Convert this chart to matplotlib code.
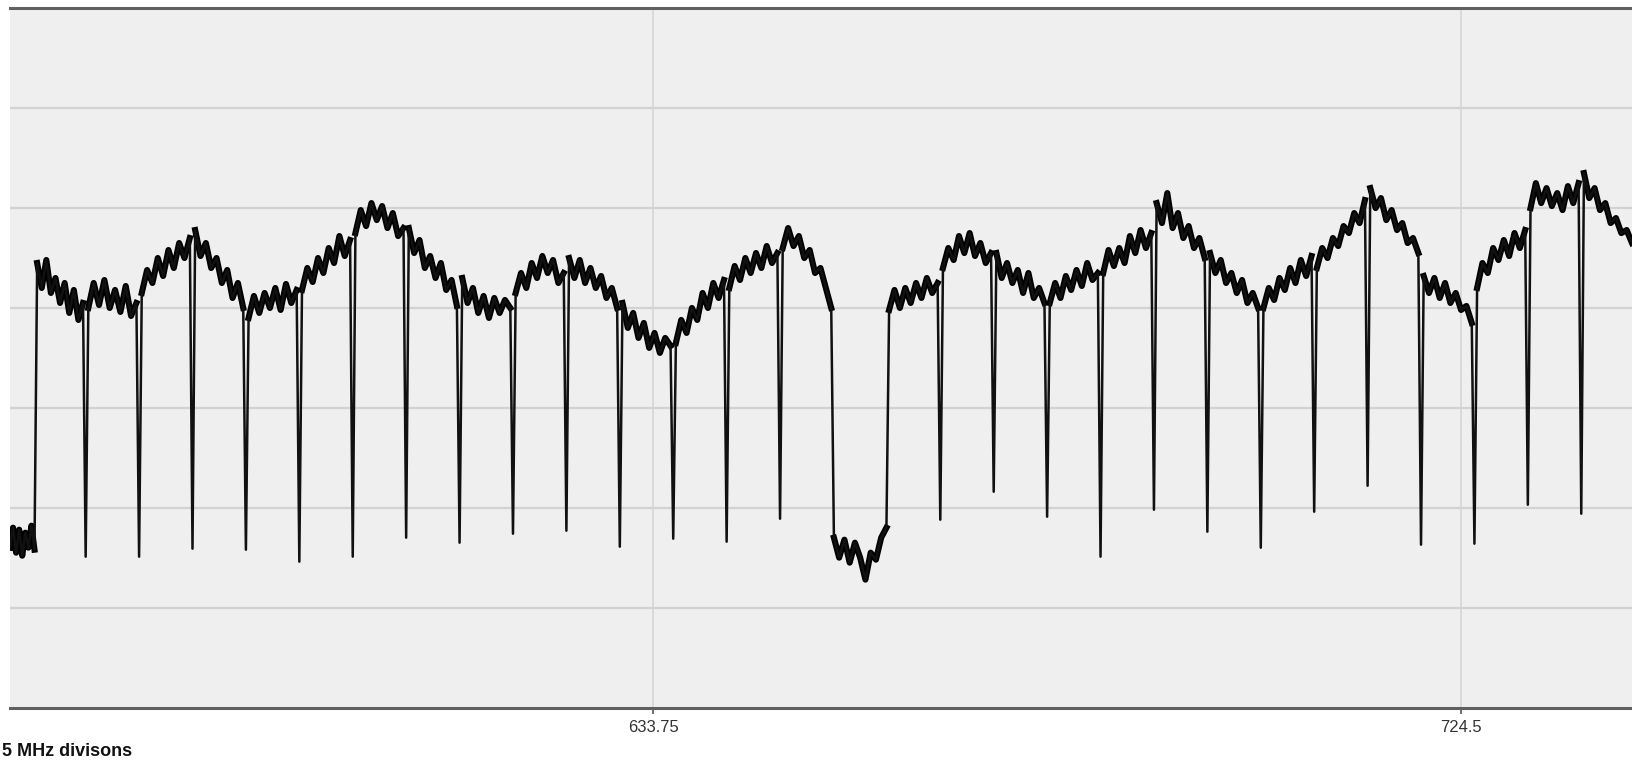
import numpy as np
import matplotlib
matplotlib.use("Agg")
import matplotlib.pyplot as plt

plt.rcParams['font.family'] = ['Liberation Sans', 'DejaVu Sans']

# frequency span shown (MHz) and tick labels
x_start, x_end = 561.5, 743.7
tick_values = [633.75, 724.5]
tick_labels = ["633.75", "724.5"]

# channel edges (MHz) where the trace dips
notch_freqs = [570, 576, 582, 588, 594, 600, 606, 612, 618, 624, 630, 636, 642, 648,
               666, 672, 678, 684, 690, 696, 702, 708, 714, 720, 726, 732, 738]
notch_depths = [15.1, 15.1, 15.9, 15.8, 14.6, 15.1, 17.0, 16.5, 17.4, 17.7, 16.1, 16.9, 16.6, 18.9,
                18.8, 21.6, 19.1, 15.1, 19.8, 17.6, 16.0, 19.6, 22.2, 16.3, 16.4, 20.3, 19.4]

# segment boundaries and the noisy level read in each segment (dB, 10 dB/div)
seg_edges = [561.5, 564.4, 570, 576, 582, 588, 594, 600, 606, 612, 618, 624, 630, 636, 642, 648,
             653.9, 660.1, 666, 672, 678, 684, 690, 696, 702, 708, 714, 720, 726, 732, 738, 743.7]
seg_levels = [
    [16.0, 18.0, 15.5, 17.8, 15.2, 17.5, 16.0, 18.2, 15.8],
    [44.5, 42.0, 44.8, 41.5, 43.0, 40.5, 42.5, 39.5, 41.8, 38.8, 40.5],
    [40.0, 42.5, 40.3, 42.8, 40.0, 41.8, 39.6, 42.2, 39.2, 40.5],
    [41.5, 43.8, 42.5, 45.0, 43.2, 45.8, 44.0, 46.5, 45.0, 47.0],
    [47.8, 45.2, 46.5, 44.0, 45.0, 42.5, 43.8, 41.0, 42.5, 40.0],
    [39.0, 41.2, 39.5, 41.5, 40.0, 42.0, 39.8, 42.4, 40.5, 41.8],
    [41.8, 44.0, 42.6, 45.0, 43.5, 46.0, 44.5, 47.2, 45.2, 46.8],
    [47.5, 49.8, 48.2, 50.5, 48.8, 50.2, 48.0, 49.5, 47.2, 48.0],
    [48.0, 45.5, 46.8, 44.0, 45.2, 43.0, 44.5, 41.8, 42.8, 40.2],
    [43.0, 40.5, 42.0, 39.5, 41.2, 39.0, 41.0, 39.5, 40.8, 40.0],
    [41.5, 43.5, 42.0, 44.5, 43.0, 45.2, 43.5, 44.8, 42.5, 43.5],
    [45.0, 43.0, 44.8, 42.5, 44.0, 42.0, 43.2, 41.0, 42.0, 40.0],
    [40.5, 38.0, 39.5, 37.0, 38.5, 36.0, 37.5, 35.5, 37.0, 36.2],
    [36.5, 38.8, 37.5, 40.0, 38.8, 41.5, 40.0, 42.5, 41.0, 42.8],
    [42.0, 44.2, 42.8, 45.0, 43.5, 45.5, 44.0, 46.2, 44.5, 45.5],
    [46.0, 48.0, 46.2, 47.2, 45.0, 45.8, 43.5, 44.0, 42.0, 40.0],
    [17.0, 15.0, 16.8, 14.5, 16.5, 15.0, 12.8, 15.5, 14.8, 17.0, 18.0],
    [39.8, 41.8, 40.0, 42.0, 40.5, 42.5, 41.0, 43.0, 41.5, 42.5],
    [44.0, 46.0, 44.8, 47.2, 45.5, 47.5, 45.2, 46.5, 44.5, 45.5],
    [45.5, 43.0, 44.5, 42.5, 43.8, 41.5, 43.5, 41.0, 42.0, 40.5],
    [40.5, 42.5, 41.0, 43.2, 41.8, 43.8, 42.2, 44.5, 42.8, 43.5],
    [43.5, 45.8, 44.2, 46.0, 44.5, 47.2, 45.5, 47.8, 46.0, 47.5],
    [50.5, 48.5, 51.5, 48.0, 49.5, 47.0, 48.2, 46.0, 47.0, 45.0],
    [45.5, 43.5, 44.8, 42.5, 43.5, 41.5, 42.8, 40.5, 41.5, 40.0],
    [40.0, 42.0, 40.8, 43.0, 41.8, 44.0, 42.5, 44.8, 43.2, 45.2],
    [44.0, 46.0, 45.0, 47.0, 46.2, 48.2, 47.5, 49.5, 48.5, 50.8],
    [52.0, 50.0, 51.0, 48.8, 49.8, 47.8, 48.5, 46.5, 47.0, 45.5],
    [43.2, 41.5, 43.0, 41.0, 42.5, 40.5, 41.5, 39.8, 40.2, 38.5],
    [42.0, 44.5, 43.5, 46.0, 44.8, 46.8, 45.2, 47.5, 46.0, 47.8],
    [50.0, 52.5, 50.5, 52.0, 50.2, 51.5, 49.8, 52.2, 50.5, 52.5],
    [53.5, 51.0, 52.0, 49.8, 50.5, 48.5, 49.0, 47.5, 47.8, 46.5],
]

# build the trace: level samples plus notch points
xs, ys = [], []
band_x, band_y = [], []
for i, lv in enumerate(seg_levels):
    a, b = seg_edges[i], seg_edges[i + 1]
    pad_a = 0.3 if a in notch_freqs else 0.15
    pad_b = 0.3 if b in notch_freqs else 0.15
    if i == 0:
        pad_a = 0.0
    if i == len(seg_levels) - 1:
        pad_b = 0.0
    px = np.linspace(a + pad_a, b - pad_b, len(lv))
    xs += list(px)
    ys += lv
    band_x += list(px) + [np.nan]
    band_y += lv + [np.nan]
    if b in notch_freqs:
        xs.append(b)
        ys.append(notch_depths[notch_freqs.index(b)])

fig = plt.figure(figsize=(16.32, 7.62), dpi=100)
ax = fig.add_axes([10 / 1632, 1 - 707.5 / 762, 1 - 10 / 1632, (707.5 - 8.3) / 762])
ax.set_facecolor("#efefef")

ax.plot(band_x, band_y, color="black", lw=4.4, zorder=3)
ax.plot(xs, ys, color="#111111", lw=1.8, zorder=4)

ax.set_xlim(x_start, x_end)
ax.set_ylim(0, 70)
ax.set_yticks(np.arange(10, 70, 10))
ax.set_yticklabels([])
ax.tick_params(axis="y", length=0)
ax.set_xticks(tick_values)
ax.set_xticklabels(tick_labels, fontsize=12, color="#333333")
ax.tick_params(axis="x", length=4, width=1.2, color="#555555", pad=5)
ax.grid(axis="y", color="#d2d2d2", lw=1.6)
ax.grid(axis="x", color="#d6d6d6", lw=1.2)
ax.set_axisbelow(True)

for s in ["left", "right"]:
    ax.spines[s].set_visible(False)
for s in ["top", "bottom"]:
    ax.spines[s].set_color("#606060")
    ax.spines[s].set_linewidth(2.2)

fig.text(0.001, 1 - 752 / 762, "5 MHz divisons", fontsize=13, fontweight="bold",
         color="#111111", va="center", ha="left")

fig.savefig("out.png", dpi=100, facecolor="white")
